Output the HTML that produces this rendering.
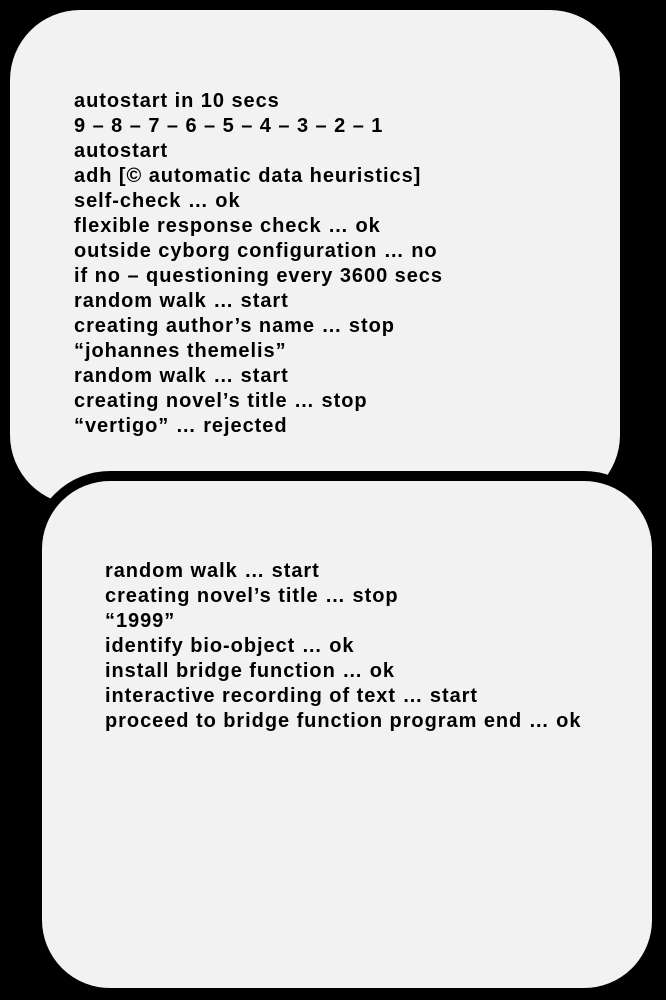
<!DOCTYPE html>
<html><head><style>
html,body{margin:0;padding:0;background:#000;width:666px;height:1000px;overflow:hidden;position:relative}
.b{position:absolute;background:#f2f2f2;border-radius:70px}
.t{position:absolute;font-family:"Liberation Sans",sans-serif;font-weight:bold;font-size:20px;line-height:25px;color:#000;white-space:pre;letter-spacing:0.95px}
</style></head><body>
<div class="b" style="left:10px;top:10px;width:610px;height:495px"></div>
<div class="b" style="left:32px;top:471px;width:610px;height:507px;border:10px solid #000;border-radius:78px"></div>
<div class="t" style="left:74px;top:89px">autostart in 10 secs
9 – 8 – 7 – 6 – 5 – 4 – 3 – 2 – 1
autostart
adh [© automatic data heuristics]
self-check … ok
flexible response check … ok
outside cyborg configuration … no
if no – questioning every 3600 secs
random walk … start
creating author’s name … stop
“johannes themelis”
random walk … start
creating novel’s title … stop
“vertigo” … rejected</div>
<div class="t" style="left:105px;top:559px">random walk … start
creating novel’s title … stop
“1999”
identify bio-object … ok
install bridge function … ok
interactive recording of text … start
proceed to bridge function program end … ok</div>
</body></html>
